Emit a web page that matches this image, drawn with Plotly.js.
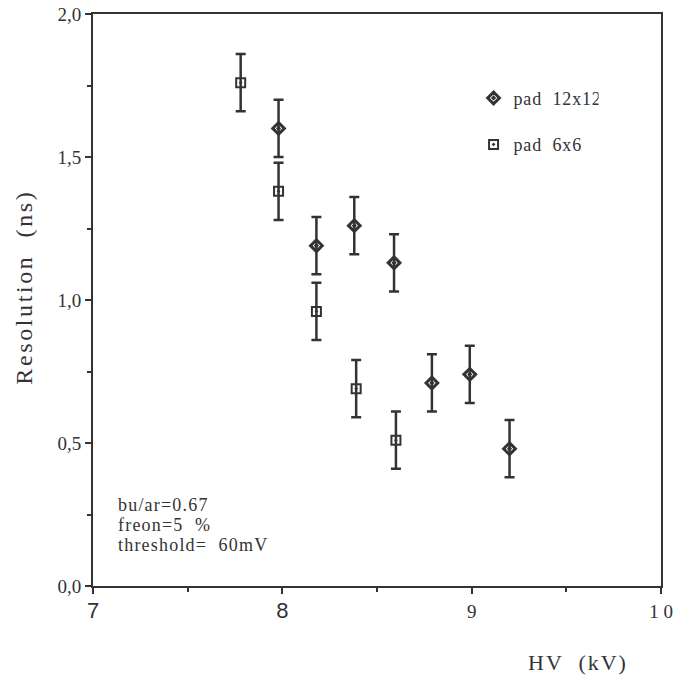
<!DOCTYPE html>
<html>
<head>
<meta charset="utf-8">
<script src="https://cdn.plot.ly/plotly-3.0.1.min.js"></script>
<style>
html,body{margin:0;padding:0;background:#fff;}
#chart{width:678px;height:679px;}
#chart .annotation-text{letter-spacing:1.2px;}
#chart .annotation[data-index="0"] .annotation-text{letter-spacing:2.6px;}
#chart .annotation[data-index="1"] .annotation-text{letter-spacing:2px;}
#chart .legendtext{letter-spacing:0.8px;}
</style>
</head>
<body>
<div id="chart"></div>
<script>
// Data
const hv12 = [7.98, 8.18, 8.38, 8.59, 8.79, 8.99, 9.20];
const res12 = [1.60, 1.19, 1.26, 1.13, 0.71, 0.74, 0.48];
const err12 = [0.10, 0.10, 0.10, 0.10, 0.10, 0.10, 0.10];
const hv6 = [7.78, 7.98, 8.18, 8.39, 8.60];
const res6 = [1.76, 1.38, 0.96, 0.69, 0.51];
const err6 = [0.10, 0.10, 0.10, 0.10, 0.10];
const xTicks = [7, 8, 9, 10];
const xTickText = ['7', '8', '9', '1 0'];
const yTicks = [0, 0.5, 1.0, 1.5, 2.0];
const yTickText = ['0,0', '0,5', '1,0', '1,5', '2,0'];
const notes = ['bu/ar=0.67', 'freon=5  %', 'threshold=  60mV'];

const ink = '#333333';
const font = 'Liberation Serif, Times New Roman, serif';
const sans = 'Liberation Sans, Arial, sans-serif';

const traces = [
  {
    x: hv12, y: res12, type: 'scatter', mode: 'markers', name: 'pad  12x12', legendgroup: 'a',
    marker: {symbol: 'diamond-open-dot', size: 9, color: ink, line: {color: ink, width: 3}},
    error_y: {type: 'data', array: err12, visible: true, color: ink, thickness: 2.5, width: 5}
  },
  {
    x: hv6, y: res6, type: 'scatter', mode: 'markers', name: 'pad  6x6', legendgroup: 'b',
    marker: {symbol: 'square-open-dot', size: 9, color: ink, line: {color: ink, width: 2}},
    error_y: {type: 'data', array: err6, visible: true, color: ink, thickness: 2.5, width: 5}
  }
];

// x tick labels: the reference mixes a sans face for 7 and 8 with a serif face for 9 and 10
const xTickHtml = xTickText.map((t, i) => i < 2
  ? '<span style="font-family:' + sans + ';font-size:22px">' + t + '</span>'
  : '<span style="font-family:' + font + ';font-size:19px">' + t + '</span>');

const annotations = [
  {xref: 'paper', yref: 'paper', x: -0.1215, y: 0.523, xanchor: 'center', yanchor: 'middle',
   textangle: -90, text: 'Resolution  (ns)', showarrow: false, font: {family: font, size: 24, color: ink}},
  {xref: 'paper', yref: 'paper', x: 0.853, y: -0.133, xanchor: 'center', yanchor: 'middle',
   text: 'HV  (kV)', showarrow: false, font: {family: font, size: 22, color: ink}}
];
notes.forEach((t, i) => annotations.push({
  xref: 'paper', yref: 'paper', x: 0.04, y: 0.142 - i * 20 / 572, xanchor: 'left', yanchor: 'middle',
  align: 'left', showarrow: false, text: t, font: {family: font, size: 18, color: ink}
}));

const layout = {
  width: 678, height: 679,
  margin: {l: 93, r: 17, t: 14, b: 93},
  paper_bgcolor: '#fff', plot_bgcolor: '#fff',
  font: {family: font, color: ink, size: 16},
  showlegend: true,
  legend: {x: 0.67, y: 0.885, xanchor: 'left', yanchor: 'top', bgcolor: 'rgba(0,0,0,0)',
           traceorder: 'grouped', tracegroupgap: 20,
           font: {family: font, size: 18, color: ink}, itemwidth: 30},
  xaxis: {
    range: [7, 10], tickvals: xTicks, ticktext: xTickHtml,
    showgrid: false, zeroline: false, showline: true, linecolor: ink, linewidth: 2,
    mirror: true, ticks: 'outside', ticklen: 6, tickwidth: 2, tickcolor: ink,
    minor: {dtick: 0.5, ticks: 'outside', ticklen: 4, tickwidth: 2, tickcolor: ink},
    tickfont: {family: font, size: 20, color: ink}
  },
  yaxis: {
    range: [0, 2], tickvals: yTicks, ticktext: yTickText,
    showgrid: false, zeroline: false, showline: true, linecolor: ink, linewidth: 2,
    mirror: true, ticks: 'outside', ticklen: 6, tickwidth: 2, tickcolor: ink,
    minor: {dtick: 0.25, ticks: 'outside', ticklen: 4, tickwidth: 2, tickcolor: ink},
    tickfont: {family: font, size: 19, color: ink}
  },
  annotations: annotations
};

Plotly.newPlot('chart', traces, layout, {displayModeBar: false, staticPlot: true});
</script>
</body>
</html>
